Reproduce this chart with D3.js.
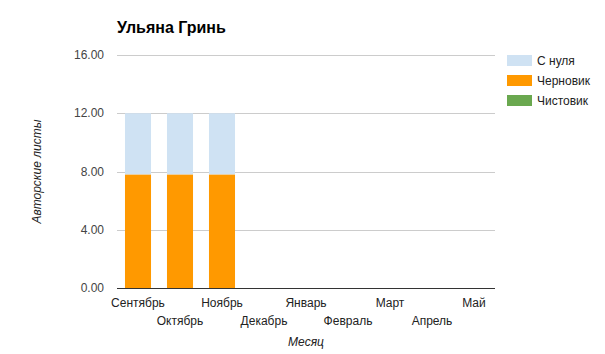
<!DOCTYPE html>
<html>
<head>
<meta charset="utf-8">
<script src="https://cdn.jsdelivr.net/npm/d3@7"></script>
<style>
body { margin: 0; background: #fff; }
text { font-family: Arial, "Liberation Sans", sans-serif; }
</style>
</head>
<body>
<script>
const w = 605
const h = 354

const months = ['Сентябрь', 'Октябрь', 'Ноябрь', 'Декабрь', 'Январь', 'Февраль', 'Март', 'Апрель', 'Май']
const seriesNames = ['С нуля', 'Черновик', 'Чистовик']
const fromScratch = [4.2, 4.2, 4.2, 0, 0, 0, 0, 0, 0]
const draft = [7.8, 7.8, 7.8, 0, 0, 0, 0, 0, 0]
const clean = [0, 0, 0, 0, 0, 0, 0, 0, 0]
const yTicks = [0, 4, 8, 12, 16]
const colors = ['#cfe2f3', '#ff9900', '#6aa84f']

const rows = months.map((m, i) => ({ month: m, draft: draft[i], fromScratch: fromScratch[i], clean: clean[i] }))
// draw order bottom -> top
const keys = ['draft', 'fromScratch', 'clean']
const keyColor = { draft: colors[1], fromScratch: colors[0], clean: colors[2] }

const svg = d3.select('body')
	.append('svg')
	.attr('width', w)
	.attr('height', h)

const plotLeft = 117, plotRight = 495, plotTop = 55, plotBottom = 288

const xScale = d3.scaleBand()
	.domain(months)
	.range([plotLeft, plotRight])
	.paddingInner(0.38)
	.paddingOuter(0.19)

const yScale = d3.scaleLinear()
	.domain([0, 16])
	.range([plotBottom, plotTop])

// gridlines
svg.append('g')
	.selectAll('line')
	.data(yTicks)
	.enter()
	.append('line')
	.attr('x1', plotLeft)
	.attr('x2', plotRight)
	.attr('y1', d => Math.round(yScale(d)) + 0.5)
	.attr('y2', d => Math.round(yScale(d)) + 0.5)
	.attr('stroke', '#cccccc')

const stack = d3.stack().keys(keys)(rows)

svg.append('g')
	.selectAll('g')
	.data(stack)
	.enter()
	.append('g')
	.attr('fill', d => keyColor[d.key])
	.selectAll('rect')
	.data(d => d)
	.enter()
	.append('rect')
	.attr('x', d => xScale(d.data.month))
	.attr('width', xScale.bandwidth())
	.attr('y', d => yScale(d[1]))
	.attr('height', d => yScale(d[0]) - yScale(d[1]))

// baseline
svg.append('line')
	.attr('x1', plotLeft)
	.attr('x2', plotRight)
	.attr('y1', plotBottom + 0.5)
	.attr('y2', plotBottom + 0.5)
	.attr('stroke', '#333333')

// y tick labels
svg.append('g')
	.selectAll('text')
	.data(yTicks)
	.enter()
	.append('text')
	.text(d => d3.format('.2f')(d))
	.attr('x', 104)
	.attr('y', d => yScale(d) + 4)
	.attr('text-anchor', 'end')
	.attr('font-size', '12px')
	.attr('fill', '#444')

// x tick labels, staggered
svg.append('g')
	.selectAll('text')
	.data(months)
	.enter()
	.append('text')
	.text(d => d)
	.attr('x', d => xScale(d) + xScale.bandwidth() / 2)
	.attr('y', (d, i) => i % 2 === 0 ? 307 : 325)
	.attr('text-anchor', 'middle')
	.attr('font-size', '12px')
	.attr('fill', '#222')

// axis titles
svg.append('text')
	.text('Месяц')
	.attr('x', (plotLeft + plotRight) / 2)
	.attr('y', 346)
	.attr('text-anchor', 'middle')
	.attr('font-size', '12px')
	.attr('font-style', 'italic')
	.attr('fill', '#222')

svg.append('text')
	.text('Авторские листы')
	.attr('transform', `translate(41,${(plotTop + plotBottom) / 2}) rotate(-90)`)
	.attr('text-anchor', 'middle')
	.attr('font-size', '12px')
	.attr('font-style', 'italic')
	.attr('fill', '#222')

// title
svg.append('text')
	.text('Ульяна Гринь')
	.attr('x', plotLeft)
	.attr('y', 33)
	.attr('font-size', '16px')
	.attr('font-weight', 'bold')
	.attr('fill', '#000')

// legend
const legend = svg.append('g')
	.selectAll('g')
	.data(seriesNames)
	.enter()
	.append('g')
	.attr('transform', (d, i) => `translate(507,${55 + i * 20})`)

legend.append('rect')
	.attr('width', 25)
	.attr('height', 11)
	.attr('fill', (d, i) => colors[i])

legend.append('text')
	.text(d => d)
	.attr('x', 30)
	.attr('y', 10)
	.attr('font-size', '12px')
	.attr('fill', '#222')
</script>
</body>
</html>
